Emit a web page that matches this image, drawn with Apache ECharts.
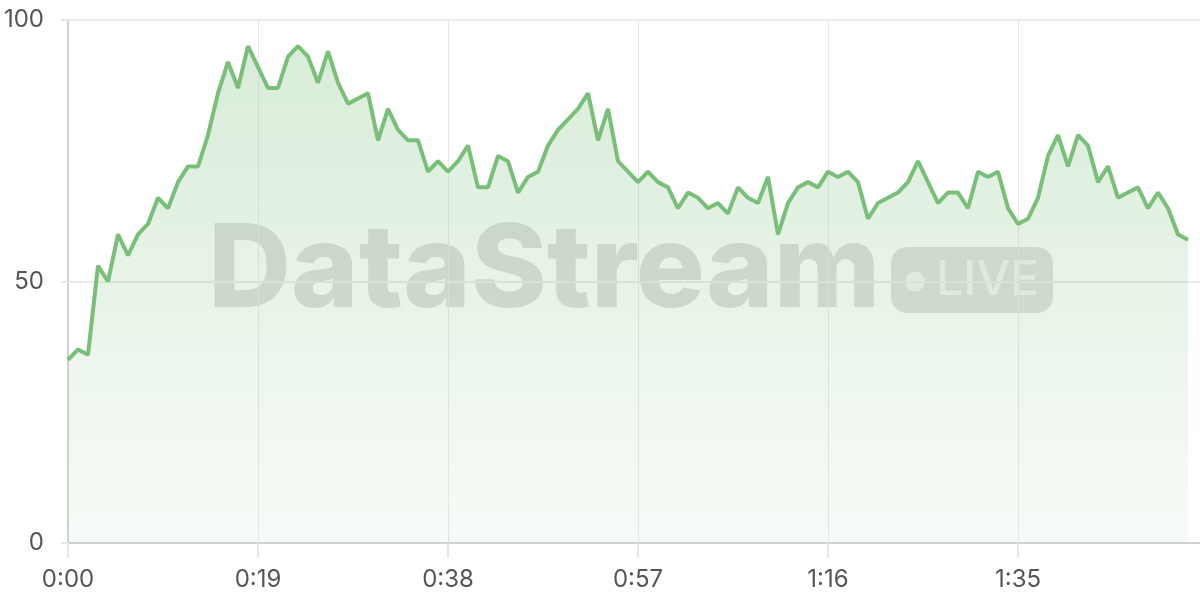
<!DOCTYPE html>
<html>
<head>
<meta charset="utf-8">
<script src="https://cdn.jsdelivr.net/npm/echarts@6/dist/echarts.min.js"></script>
<style>
html,body{margin:0;padding:0;background:#fff;}
#chart{width:1200px;height:600px;}
</style>
</head>
<body>
<div id="chart"></div>
<script>
// seconds since start
const seconds = [];
for (let i = 0; i <= 112; i++) seconds.push(i);
// series values
const values = [
  35, 37, 36, 53, 50, 59, 55, 59, 61, 66,
  64, 69, 72, 72, 78, 86, 92, 87, 95, 91,
  87, 87, 93, 95, 93, 88, 94, 88, 84, 85,
  86, 77, 83, 79, 77, 77, 71, 73, 71, 73,
  76, 68, 68, 74, 73, 67, 70, 71, 76, 79,
  81, 83, 86, 77, 83, 73, 71, 69, 71, 69,
  68, 64, 67, 66, 64, 65, 63, 68, 66, 65,
  70, 59, 65, 68, 69, 68, 71, 70, 71, 69,
  62, 65, 66, 67, 69, 73, 69, 65, 67, 67,
  64, 71, 70, 71, 64, 61, 62, 66, 74, 78,
  72, 78, 76, 69, 72, 66, 67, 68, 64, 67,
  64, 59, 58
];
const xTickStep = 19;
const yTicks = [0, 50, 100];
const watermarkText = 'DataStream';
const badgeText = 'LIVE';

function fmt(t) {
  const m = Math.floor(t / 60), s = Math.round(t % 60);
  return m + ':' + (s < 10 ? '0' + s : s);
}

const chart = echarts.init(document.getElementById('chart'), null, {renderer: 'canvas'});
const lineColor = '#79be79';
chart.setOption({
  animation: false,
  backgroundColor: '#ffffff',
  grid: {left: 68, right: 0, top: 20, bottom: 57, containLabel: false},
  xAxis: {
    type: 'value',
    min: 0,
    max: 113.2,
    interval: xTickStep,
    axisLine: {show: true, lineStyle: {color: '#d2d2d2', width: 2}},
    axisTick: {show: true, length: 15, lineStyle: {color: '#e6e6e6', width: 2}},
    splitLine: {show: true, lineStyle: {color: '#e8e8e8', width: 1}},
    axisLabel: {
      color: '#555555', fontSize: 24, fontFamily: 'Inter', margin: 25,
      showMaxLabel: false,
      formatter: v => (Math.abs(v % xTickStep) < 1e-6 ? fmt(v) : '')
    }
  },
  yAxis: {
    type: 'value',
    min: yTicks[0], max: yTicks[yTicks.length - 1], interval: 50,
    axisLine: {show: true, lineStyle: {color: '#d2d2d2', width: 2}},
    axisTick: {show: true, length: 7, lineStyle: {color: '#e8e8e8', width: 2}},
    splitLine: {show: true, lineStyle: {color: '#ebebeb', width: 2}},
    axisLabel: {color: '#555555', fontSize: 24, fontFamily: 'Inter', margin: 24}
  },
  graphic: [
    {type: 'text', z: 0, zlevel: 0, silent: true,
      style: {x: 208, y: 272, text: watermarkText, font: '800 115px Inter',
        fill: 'rgba(0,0,0,0.13)', textAlign: 'left', textVerticalAlign: 'middle', verticalAlign: 'middle'}},
    {type: 'rect', z: 0, silent: true,
      shape: {x: 891, y: 247, width: 162, height: 66, r: 16},
      style: {fill: 'rgba(0,0,0,0.12)'}},
    {type: 'circle', z: 0, silent: true,
      shape: {cx: 915, cy: 281.5, r: 10},
      style: {fill: 'rgba(255,255,255,0.65)'}},
    {type: 'text', z: 0, silent: true,
      style: {x: 936, y: 281, text: badgeText, font: '500 48px Inter',
        fill: 'rgba(255,255,255,0.65)', textAlign: 'left', textVerticalAlign: 'middle', verticalAlign: 'middle'}}
  ],
  series: [{
    type: 'line',
    data: seconds.map((t, i) => [t, values[i]]),
    symbol: 'none',
    smooth: false,
    lineStyle: {color: lineColor, width: 4},
    areaStyle: {
      color: new echarts.graphic.LinearGradient(0, 0, 0, 1, [
        {offset: 0, color: 'rgba(118,188,118,0.4)'},
        {offset: 1, color: 'rgba(118,188,118,0.08)'}
      ])
    },
    z: 2
  }]
});
</script>
</body>
</html>
